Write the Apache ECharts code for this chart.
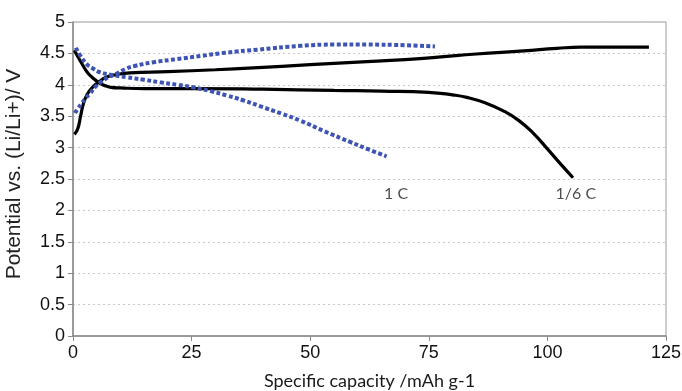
<!DOCTYPE html>
<html>
<head>
<meta charset="utf-8">
<script src="https://cdn.jsdelivr.net/npm/echarts@6/dist/echarts.min.js"></script>
<style>html,body{margin:0;padding:0;background:#fff;}#c{width:682px;height:391px;}</style>
</head>
<body>
<div id="c"></div>
<script>
// 1/6 C charge (black, upper branch)
var slowCharge = [[0.3,3.21],[1,3.3],[1.6,3.5],[2.2,3.7],[3,3.85],[4,3.95],[5.5,4.05],[7,4.12],[9,4.16],[12,4.19],[20,4.21],[30,4.24],[38,4.27],[50,4.32],[60,4.36],[70,4.40],[77,4.44],[85,4.49],[95,4.54],[102,4.58],[107,4.6],[115,4.6],[121.4,4.6]];
// 1/6 C discharge (black, lower branch)
var slowDischarge = [[0.3,4.55],[1,4.45],[2,4.32],[3,4.2],[4,4.12],[5,4.06],[6,4.01],[7,3.98],[8,3.96],[10,3.95],[15,3.94],[25,3.94],[40,3.93],[55,3.91],[65,3.90],[75,3.88],[80,3.84],[83,3.80],[87,3.71],[90.6,3.59],[94,3.43],[97,3.23],[100,2.98],[103,2.72],[105.4,2.52]];
// 1 C charge (blue dotted, upper branch)
var fastCharge = [[0.4,3.55],[1,3.62],[1.8,3.70],[2.7,3.79],[3.6,3.86],[4.6,3.96],[6,4.05],[7.5,4.12],[9.2,4.18],[11,4.25],[13,4.30],[17,4.36],[22,4.41],[27,4.46],[32,4.51],[39,4.56],[48,4.62],[55,4.64],[62,4.64],[70,4.63],[76.3,4.61]];
// 1 C discharge (blue dotted, lower branch)
var fastDischarge = [[0.6,4.59],[1.5,4.47],[2.9,4.33],[4.2,4.26],[5.7,4.2],[8,4.16],[11.3,4.12],[15,4.08],[18.3,4.04],[22,4.0],[25.3,3.96],[29,3.9],[32.4,3.83],[36,3.75],[39.4,3.66],[44,3.54],[47.9,3.43],[53,3.26],[58.4,3.09],[62,2.98],[66.1,2.86]];
// curve annotations
var annotations = [{name:'1 C', value:[68.1,2.27]},{name:'1/6 C', value:[106,2.27]}];
var xTicks = [0,25,50,75,100,125];
var yTicks = [0,0.5,1,1.5,2,2.5,3,3.5,4,4.5,5];

var chart = echarts.init(document.getElementById('c'));
var black = '#000000', blue = '#3d54b3';
var sans = 'Liberation Sans';
var human = 'Lato';
function solid(name, data){return {name:name,type:'line',data:data,smooth:true,symbol:'none',lineStyle:{color:black,width:3.2},z:3};}
function dotted(name, data){return {name:name,type:'line',data:data,smooth:true,symbol:'none',lineStyle:{color:blue,width:4,type:[4,2.4],cap:'butt'},z:4};}
chart.setOption({
  animation:false,
  grid:{left:73,right:16,top:22,bottom:55,show:true,borderColor:'#9a9a9a',borderWidth:1,containLabel:false,outerBoundsMode:'none'},
  xAxis:{type:'value',min:0,max:125,interval:25,
    name:'Specific capacity /mAh g-1',nameLocation:'middle',nameGap:36,
    nameTextStyle:{fontFamily:human,fontSize:18,color:'#1a1a1a'},
    axisLine:{show:true,lineStyle:{color:'#8a8a8a',width:1.5}},
    axisTick:{show:true,length:5,lineStyle:{color:'#8a8a8a'}},
    axisLabel:{fontFamily:sans,fontSize:18,color:'#111',margin:8,formatter:function(v){return xTicks.indexOf(v)>=0?String(v):'';}},
    splitLine:{show:false}},
  yAxis:{type:'value',min:0,max:5,interval:0.5,
    name:'Potential vs. (Li/Li+)/ V',nameLocation:'middle',nameGap:48,
    nameTextStyle:{fontFamily:sans,fontSize:21,color:'#222',padding:[0,0,0,10]},
    axisLine:{show:true,lineStyle:{color:'#8a8a8a',width:1.5}},
    axisTick:{show:true,length:5,lineStyle:{color:'#8a8a8a'}},
    axisLabel:{fontFamily:sans,fontSize:18,color:'#111',margin:8,formatter:function(v){return yTicks.indexOf(v)>=0?String(v):'';}},
    splitLine:{show:true,lineStyle:{color:'#c8c8c8',type:[2,3],width:1}}},
  series:[
    solid('1/6 C charge', slowCharge),
    solid('1/6 C discharge', slowDischarge),
    dotted('1 C charge', fastCharge),
    dotted('1 C discharge', fastDischarge),
    {name:'labels',type:'scatter',data:annotations,symbolSize:0,silent:true,
      label:{show:true,position:'inside',formatter:'{b}',fontFamily:human,fontSize:16,color:'#222'}}
  ]
});
</script>
</body>
</html>
